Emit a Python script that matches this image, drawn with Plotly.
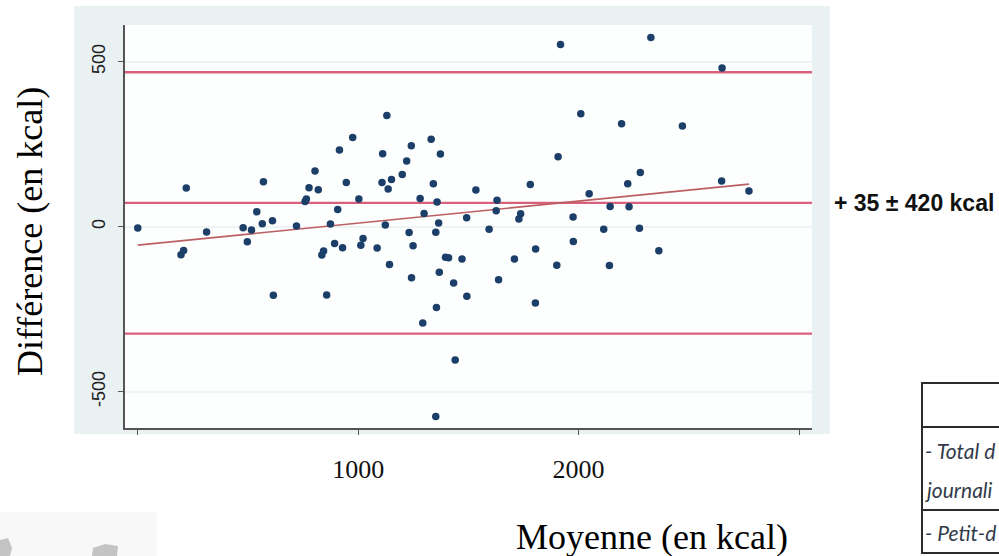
import plotly.graph_objects as go

# ---- data ----
moyenne = [0, 220, 196, 208, 312, 478, 516, 497, 540, 565, 570, 611, 615, 720, 759, 765,
           777, 804, 819, 835, 843, 857, 874, 893, 907, 915, 929, 946, 975, 1003, 1012, 1022,
           1086, 1111, 1108, 1130, 1136, 1123, 1142, 1151, 1200, 1220, 1231, 1241, 1249, 1242,
           1281, 1299, 1331, 1341, 1358, 1373, 1365, 1352, 1368, 1396, 1410, 1433, 1471, 1493,
           1355, 1293, 1440, 1352, 1492, 1534, 1594, 1630, 1626, 1637, 1709, 1737, 1729, 1781,
           1805, 1804, 1907, 2010, 2048, 1975, 1976, 1901, 2114, 2143, 1918, 2328, 2651, 2195,
           2471, 2280, 2223, 2649, 2773, 2229, 2276, 2364, 2140]
difference = [-4, 117, -85, -72, -16, -3, -10, -46, 45, 9, 136, 18, -208, 2, 76, 84,
              118, 169, 112, -86, -74, -207, 8, -51, 52, 232, -64, 134, 270, 84, -56, -36,
              -65, 221, 134, 337, 114, 5, -115, 143, 158, 199, -18, 245, -58, -155,
              85, 40, 265, 130, 75, 220, 11, -17, -138, -93, -94, -171, -98, -211,
              -245, -292, -404, -575, 27, 111, -8, 80, 48, -161, -98, 39, 23, 128,
              -68, -231, 212, 342, 100, 29, -45, -117, -8, 61, 552, 573, 481, 312,
              305, 164, 130, 138, 108, 60, -5, -73, -118]

limit_upper = 468
mean_diff = 72
limit_lower = -324
fit_x = [0, 2773]
fit_y = [-56, 129]

x_ticks = [0, 1000, 2000, 3000]
x_ticktext = ["", "1000", "2000", ""]
y_ticks = [-500, 0, 500]
y_ticktext = ["-500", "0", "500"]

annot_text = "+ 35 ± 420 kcal"
# the table is cropped at the right edge of the picture: only these parts are visible
table_rows = ["- Total d", "journali", "- Petit-d"]

# ---- layout geometry ----
W_PX, H_PX = 999, 556
L, R, T, B = 125, 187, 25, 128
PW, PH = W_PX - L - R, H_PX - T - B


def px(x):
    return (x - L) / PW


def py(y):
    return (T + PH - y) / PH


fig = go.Figure()

fig.add_trace(go.Scatter(x=fit_x, y=fit_y, mode="lines",
                         line=dict(color="#bb5f63", width=1.6), hoverinfo="skip"))
fig.add_trace(go.Scatter(x=moyenne, y=difference, mode="markers",
                         marker=dict(color="#1b3f68", size=7.5, line=dict(width=0))))

shapes = []
# outer light panel
shapes.append(dict(type="rect", xref="paper", yref="paper", layer="below",
                   x0=px(74), x1=px(830), y0=py(434), y1=py(6),
                   fillcolor="#e9f1f3", line=dict(width=0)))
shapes.append(dict(type="rect", xref="paper", yref="paper", layer="below",
                   x0=0, x1=1, y0=0, y1=1, fillcolor="#fdfefe", line=dict(width=0)))
for v in [limit_upper, mean_diff, limit_lower]:
    shapes.append(dict(type="line", xref="paper", yref="y", x0=0, x1=1, y0=v, y1=v,
                       line=dict(color="#d9607c", width=2.4), layer="below"))

# table at bottom right
tbl_line = dict(color="#2b2b2b", width=2)
shapes.append(dict(type="rect", xref="paper", yref="paper", x0=px(922), x1=px(1040),
                   y0=py(553), y1=py(383), line=tbl_line, fillcolor="rgba(0,0,0,0)"))
for yy in [427, 510]:
    shapes.append(dict(type="line", xref="paper", yref="paper", x0=px(922), x1=px(1040),
                       y0=py(yy), y1=py(yy), line=tbl_line))

# faint logo bottom-left
shapes.append(dict(type="rect", xref="paper", yref="paper", x0=px(0), x1=px(157),
                   y0=py(556), y1=py(512), fillcolor="#f8f8f8", line=dict(width=0)))
shapes.append(dict(type="path", xref="paper", yref="paper",
                   path=f"M {px(0)} {py(540)} L {px(8)} {py(538)} L {px(12)} {py(548)} L {px(10)} {py(556)} L {px(0)} {py(556)} Z",
                   fillcolor="#c4c4c4", line=dict(width=0)))
shapes.append(dict(type="path", xref="paper", yref="paper",
                   path=f"M {px(93)} {py(548)} L {px(105)} {py(544)} L {px(118)} {py(546)} L {px(117)} {py(556)} L {px(92)} {py(556)} Z",
                   fillcolor="#c4c4c4", line=dict(width=0)))

tbl_font = dict(family="Lato", size=21, color="#323b4a")
annotations = [
    dict(text="Différence (en kcal)", textangle=-90, xref="paper", yref="paper",
         x=px(30), y=py(232), xanchor="center", yanchor="middle", showarrow=False,
         font=dict(family="Liberation Serif", size=36, color="#000")),
    dict(text="Moyenne (en kcal)", xref="paper", yref="paper",
         x=px(652), y=py(537), xanchor="center", yanchor="middle", showarrow=False,
         font=dict(family="Liberation Serif", size=36, color="#000")),
    dict(text="<b>" + annot_text + "</b>", xref="paper", yref="paper",
         x=px(832), y=py(203), xanchor="left", yanchor="middle", showarrow=False,
         font=dict(family="Liberation Sans", size=23, color="#111")),
    dict(text="<i>" + table_rows[0] + "</i>", xref="paper", yref="paper",
         x=px(923), y=py(450), xanchor="left", yanchor="middle", showarrow=False,
         font=tbl_font),
    dict(text="<i>" + table_rows[1] + "</i>", xref="paper", yref="paper",
         x=px(923), y=py(490), xanchor="left", yanchor="middle", showarrow=False,
         font=tbl_font),
    dict(text="<i>" + table_rows[2] + "</i>", xref="paper", yref="paper",
         x=px(923), y=py(532), xanchor="left", yanchor="middle", showarrow=False,
         font=tbl_font),
]

fig.update_layout(
    width=W_PX, height=H_PX,
    margin=dict(l=L, r=R, t=T, b=B),
    paper_bgcolor="white",
    plot_bgcolor="rgba(0,0,0,0)",
    showlegend=False,
    shapes=shapes,
    annotations=annotations,
    xaxis=dict(range=[-58, 3059], tickvals=x_ticks, ticktext=x_ticktext,
               showgrid=False, zeroline=False, showline=True, linecolor="#555",
               linewidth=1.5, ticks="outside", ticklen=5, tickcolor="#555",
               ticklabelstandoff=12,
               tickfont=dict(family="Liberation Serif", size=26, color="#111")),
    yaxis=dict(range=[-610, 611], tickvals=y_ticks, ticktext=y_ticktext,
               showgrid=True, gridcolor="#eef3f3", gridwidth=1.5, zeroline=False,
               showline=True, linecolor="#555", linewidth=1.5, ticks="outside",
               ticklen=5, tickcolor="#555", tickangle=-90, ticklabelstandoff=6,
               tickfont=dict(family="Liberation Sans", size=18, color="#222")),
)

fig.write_html("out.html")
